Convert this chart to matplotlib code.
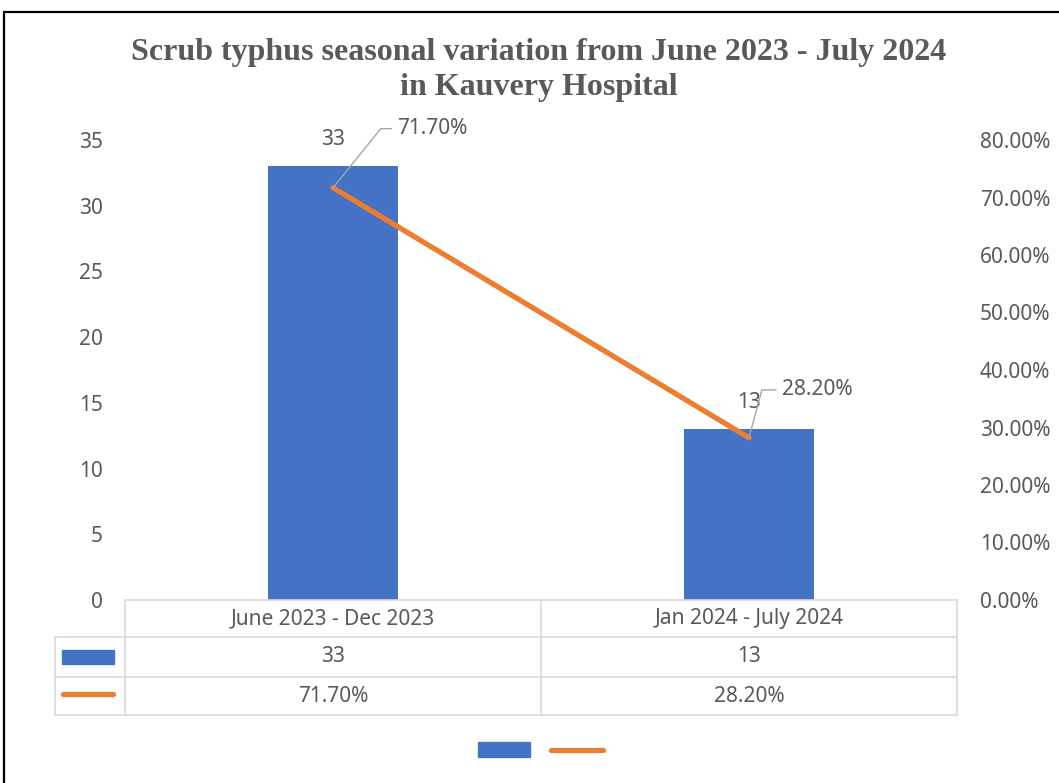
import matplotlib.pyplot as plt
from matplotlib.patches import Rectangle
from matplotlib.lines import Line2D
from matplotlib.transforms import blended_transform_factory

# data
categories = ['June 2023 - Dec 2023', 'Jan 2024 - July 2024']
cases = [33, 13]
share = [0.717, 0.282]
share_labels = ['71.70%', '28.20%']

BLUE = '#4472C4'
ORANGE = '#ED7D31'
GRAY = '#595959'
GRID = '#D9D9D9'
FS = 15

plt.rcParams['font.family'] = ['Noto Sans', 'DejaVu Sans']

W, H = 1059, 783
fig = plt.figure(figsize=(W / 100, H / 100), dpi=100)

# plot area in pixels: x 125..957, y 140..600
ax = fig.add_axes([125 / W, 1 - 600 / H, 832 / W, 460 / H])
ax2 = ax.twinx()

x = list(range(len(categories)))
ax.bar(x, cases, width=0.3125, color=BLUE, zorder=2)
ax2.plot(x, share, color=ORANGE, lw=3.8, solid_capstyle='round', zorder=3)

ax.set_xlim(-0.5, 1.5)
ax.set_ylim(0, 35)
ax.set_yticks(range(0, 36, 5))
ax2.set_ylim(0, 0.8)
ax2.set_yticks([i / 10 for i in range(0, 9)])
ax2.set_yticklabels([f'{i * 10:.2f}%' for i in range(0, 9)])
ax.set_xticks([])

for a in (ax, ax2):
    for s in a.spines.values():
        s.set_visible(False)
    a.tick_params(length=0, labelsize=FS, labelcolor=GRAY)
ax.tick_params(axis='y', pad=16)
ax2.tick_params(axis='y', pad=16.5)
ax2.set_zorder(ax.get_zorder() + 1)
ax2.patch.set_visible(False)

# bar value labels
for xi, v in zip(x, cases):
    ax.annotate(str(v), (xi, v), xytext=(0, 19), textcoords='offset points',
                ha='center', va='center', fontsize=FS, color=GRAY)

# line value labels with leader lines
offsets = [(46, 42.5, 51), (23.5, 34.5, 75)]
for xi, v, lab, (dx, dy, ang) in zip(x, share, share_labels, offsets):
    ax2.annotate(lab, (xi, v), xytext=(dx, dy), textcoords='offset points',
                 ha='left', va='center', fontsize=FS, color=GRAY,
                 arrowprops=dict(arrowstyle='-', color='#A6A6A6', lw=1,
                                 connectionstyle=f'angle,angleA=0,angleB={ang},rad=0',
                                 shrinkA=2, shrinkB=0))

# data table under the axis
tr = blended_transform_factory(ax.transData, ax.transAxes)


def ya(py):
    return -(py - 600) / 460


x_left = -0.5 - 70 / 416
row_y = [600, 637, 677, 715]
line_kw = dict(color=GRID, lw=1.2, transform=tr, clip_on=False)
ax.add_line(Line2D([-0.5, 1.5], [ya(600), ya(600)], **line_kw))
for py in row_y[1:]:
    ax.add_line(Line2D([x_left, 1.5], [ya(py), ya(py)], **line_kw))
for xv in [-0.5, 0.5, 1.5]:
    ax.add_line(Line2D([xv, xv], [ya(600), ya(715)], **line_kw))
ax.add_line(Line2D([x_left, x_left], [ya(637), ya(715)], **line_kw))

txt_kw = dict(transform=tr, ha='center', va='center', fontsize=FS, color=GRAY, clip_on=False)
for xi, cat, v, lab in zip(x, categories, cases, share_labels):
    ax.text(xi, ya(618.5), cat, **txt_kw)
    ax.text(xi, ya(657), str(v), **txt_kw)
    ax.text(xi, ya(696), lab, **txt_kw)

# legend keys in table
fig.patches.append(Rectangle((62 / W, 1 - 664 / H), 52 / W, 14 / H,
                             transform=fig.transFigure, color=BLUE))
fig.lines.append(Line2D([63 / W, 113 / W], [1 - 694 / H, 1 - 694 / H],
                        transform=fig.transFigure, color=ORANGE, lw=3.8,
                        solid_capstyle='round'))

# bottom legend (no labels)
fig.patches.append(Rectangle((478 / W, 1 - 757 / H), 52 / W, 15 / H,
                             transform=fig.transFigure, color=BLUE))
fig.lines.append(Line2D([551 / W, 603 / W], [1 - 750 / H, 1 - 750 / H],
                        transform=fig.transFigure, color=ORANGE, lw=3.8,
                        solid_capstyle='round'))

# title
fig.text(539 / W, 1 - 70 / H,
         'Scrub typhus seasonal variation from June 2023 - July 2024\nin Kauvery Hospital',
         ha='center', va='center', fontsize=23, fontweight='bold', color=GRAY,
         family='Liberation Serif', linespacing=1.27)

# outer frame
fig.patches.append(Rectangle((4 / W, -0.1), 1.2, 1 - 12 / H + 0.1,
                             transform=fig.transFigure, fill=False,
                             edgecolor='black', lw=1.6))

fig.savefig('out.png', dpi=100)
